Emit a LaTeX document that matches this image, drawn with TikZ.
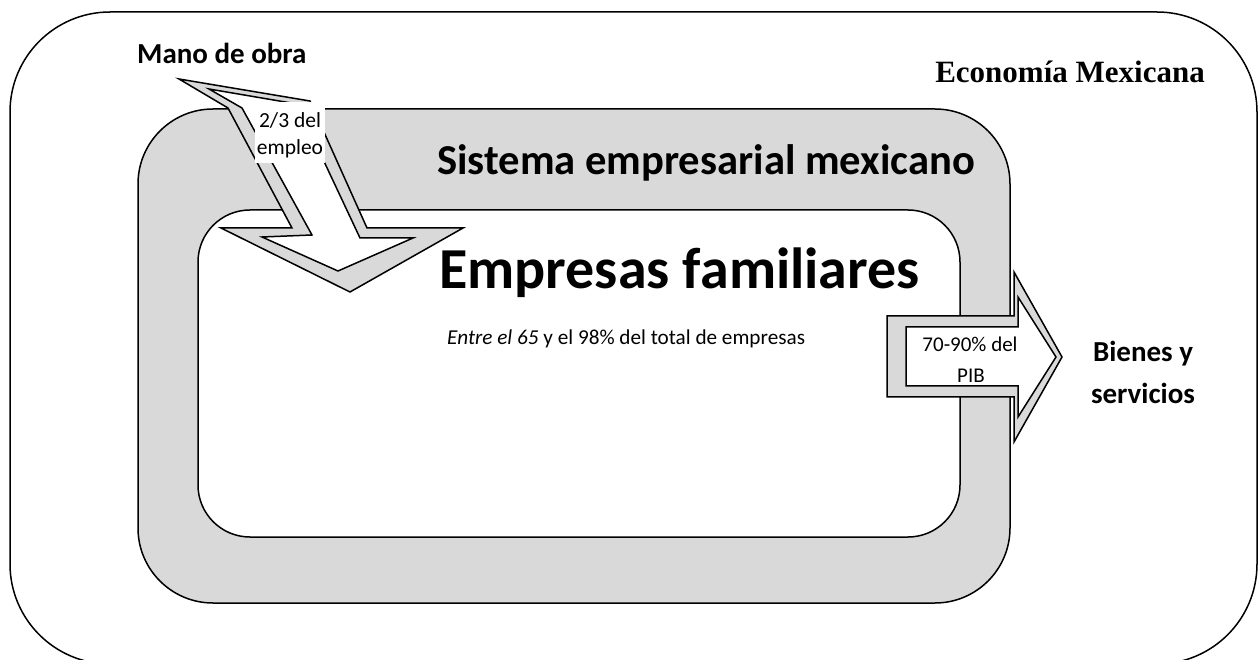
\documentclass[tikz,border=0pt]{standalone}
\usepackage{fontspec}
\setmainfont{Carlito}
\newfontfamily\timesfont{Liberation Serif}
\definecolor{ringgray}{HTML}{D9D9D9}
\begin{document}
\begin{tikzpicture}[x=1pt,y=-1pt,
  outline/.style={draw=black, line width=1.5pt, line join=miter},
  txt/.style={inner sep=0pt, anchor=base}]
\useasboundingbox (0,0) rectangle (1259,660);
% outer frame: Economia Mexicana
\path[outline, fill=white, rounded corners=100pt] (10,12) rectangle (1257,664);
% ring: Sistema empresarial mexicano
\path[outline, fill=ringgray, rounded corners=75pt] (138,109) rectangle (1010,603);
\path[outline, fill=white, rounded corners=52pt] (198,210) rectangle (960,537);
% down arrow (Mano de obra)
\path[outline, fill=ringgray] (179,79) -- (310,101) -- (367,228) -- (463,228) -- (350,292) -- (221,228) -- (292,228) -- (228,108) -- cycle;
\path[outline, fill=white] (209,89) -- (297,104) -- (360,238) -- (413,238) -- (338,271) -- (262,237) -- (312,235) -- (242,108) -- cycle;
\node[fill=white, inner sep=0pt, minimum width=70pt, minimum height=61pt] (lblbox) at (290,132.5) {};
% right arrow (PIB)
\path[outline, fill=ringgray] (887,316) -- (1014,316) -- (1014,272) -- (1062,357) -- (1014,442) -- (1014,397) -- (887,397) -- cycle;
\path[outline, fill=white] (906,327) -- (1018,327) -- (1018,297) -- (1056,357) -- (1018,417) -- (1018,386) -- (906,386) -- cycle;
% texts
\node[txt, anchor=base west] (mano) at (137,64) {\fontsize{29}{35}\selectfont\bfseries Mano de obra};
\node[txt] (eco) at (1070,83) {\timesfont\fontsize{31}{37}\selectfont\bfseries Economía Mexicana};
\node[txt, anchor=base west] (sis) at (437,175) {\fontsize{42.6}{50}\selectfont\bfseries Sistema empresarial mexicano};
\node[txt, anchor=base west] (emp) at (439,289) {\fontsize{58}{70}\selectfont\bfseries Empresas familiares};
\node[txt, anchor=base west] (entre) at (447,345) {\fontsize{21.2}{26}\selectfont\textit{Entre el 65} y el 98\% del total de empresas};
\node[txt] (l1) at (290,128) {\fontsize{21.5}{26}\selectfont 2/3 del};
\node[txt] (l2) at (290,155) {\fontsize{21.5}{26}\selectfont empleo};
\node[txt] (p1) at (970,352) {\fontsize{21}{26}\selectfont 70-90\% del};
\node[txt] (p2) at (971,382) {\fontsize{21}{26}\selectfont PIB};
\node[txt] (b1) at (1143,362) {\fontsize{29}{35}\selectfont\bfseries Bienes y};
\node[txt] (b2) at (1143,403) {\fontsize{29}{35}\selectfont\bfseries servicios};
\end{tikzpicture}
\end{document}
